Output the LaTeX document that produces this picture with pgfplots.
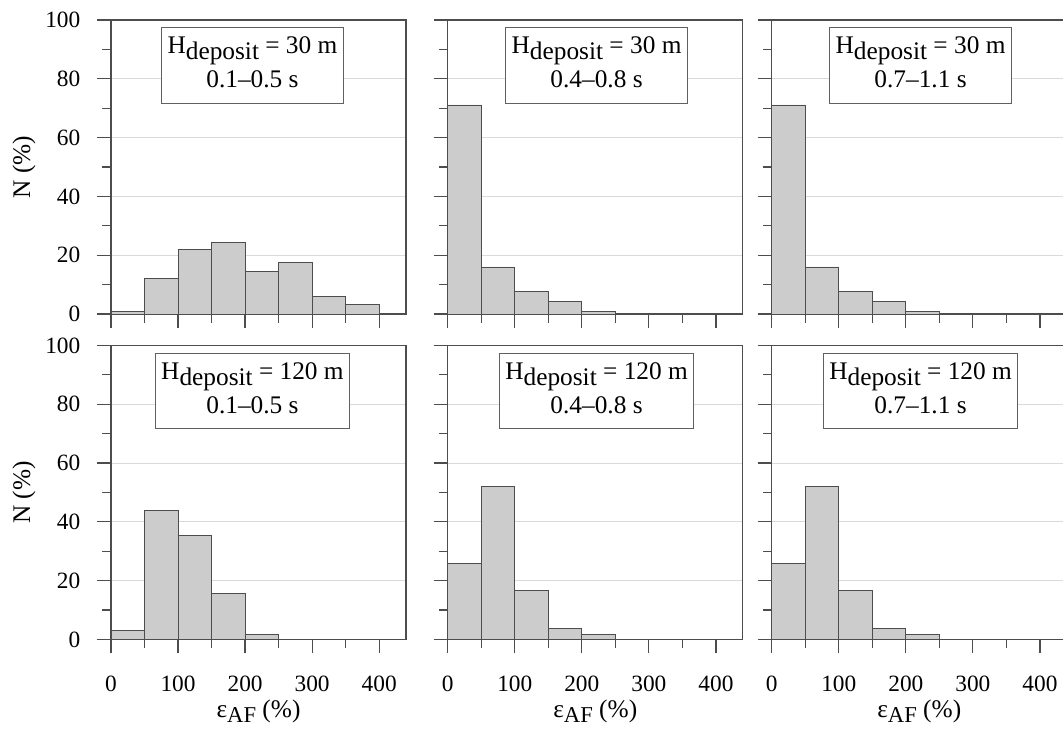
\documentclass[border=0pt]{standalone}
\usepackage{fontspec}
\setmainfont{Liberation Serif}
\usepackage{pgfplots}
\pgfplotsset{compat=1.18}
\definecolor{barfill}{HTML}{CCCCCC}
\definecolor{axisc}{HTML}{4D4D4D}
\definecolor{boxc}{HTML}{606060}
\definecolor{gridc}{HTML}{DADADA}

\newcommand{\hdep}[2]{H\raisebox{-0.23em}{deposit} = #1 m\\#2\rule[-0.25em]{0pt}{0pt}}

\pgfplotsset{
 panel/.style={
  scale only axis, width=221.25pt, height=220.5pt,
  xmin=0, xmax=440, ymin=0, ymax=100,
  xtick={0,100,...,400}, minor xtick={50,150,250,350},
  ytick={0,20,...,100}, minor ytick={10,30,...,90},
  tick align=outside, xtick pos=bottom, ytick pos=left,
  major tick length=10.5pt, minor tick length=6.4pt,
  ymajorgrids, major grid style={gridc, line width=0.8pt},
  axis line style={axisc, line width=0.9pt},
  major tick style={axisc, line width=0.9pt},
  minor tick style={axisc, line width=0.9pt},
  tick label style={font=\fontsize{17.5}{17.5}\selectfont},
  yticklabel style={xshift=-9pt},
  xticklabel style={yshift=-13.5pt},
  /pgf/number format/assume math mode=true,
  every axis y label/.style={at={(axis description cs:-0.295,0.5)}, rotate=90, anchor=center},
  every axis x label/.style={at={(axis description cs:0.5,-0.265)}, anchor=base},
  label style={font=\fontsize{19}{19}\selectfont},
  clip=false,
 },
 bars/.style={ybar interval, fill=barfill, draw=axisc, line width=0.7pt},
 nox/.style={xticklabels={}},
 noy/.style={yticklabels={}},
 ylab/.style={ylabel={N (\%)}},
 xlab/.style={xlabel={ε\raisebox{-0.2em}{\fontsize{17}{17}\selectfont AF} (\%)}},
}
\tikzset{infobox/.style={draw=boxc, line width=0.8pt, fill=white, anchor=north, align=center,
  font=\fontsize{19}{25.5}\selectfont, inner xsep=4.5pt, inner ysep=7pt}}

\begin{document}
\begin{tikzpicture}
\path[use as bounding box] (0,0) rectangle (797.25pt,-549.75pt);
% Row 1
\begin{axis}[panel, nox, ylab, at={(83.25pt,-15pt)}, anchor=north west]
\addplot[bars] coordinates {(0,0.8)(50,12.1)(100,22.1)(150,24.3)(200,14.5)(250,17.5)(300,5.9)(350,3.1)(400,0)};
\node[infobox] at (axis cs:211,97.6) {\hdep{30}{0.1–0.5 s}};
\end{axis}
\begin{axis}[panel, nox, noy, at={(335.8pt,-15pt)}, anchor=north west]
\addplot[bars] coordinates {(0,71.1)(50,16.0)(100,7.5)(150,4.4)(200,0.7)(250,0)};
\node[infobox] at (axis cs:222,97.6) {\hdep{30}{0.4–0.8 s}};
\end{axis}
\begin{axis}[panel, nox, noy, at={(578.8pt,-15pt)}, anchor=north west]
\addplot[bars] coordinates {(0,71.1)(50,16.0)(100,7.5)(150,4.4)(200,0.7)(250,0)};
\node[infobox] at (axis cs:222,97.6) {\hdep{30}{0.7–1.1 s}};
\end{axis}
% Row 2
\begin{axis}[panel, ylab, xlab, at={(83.25pt,-259.1pt)}, anchor=north west]
\addplot[bars] coordinates {(0,3.05)(50,43.8)(100,35.5)(150,15.8)(200,1.6)(250,0)};
\node[infobox] at (axis cs:211,97.6) {\hdep{120}{0.1–0.5 s}};
\end{axis}
\begin{axis}[panel, noy, xlab, at={(335.8pt,-259.1pt)}, anchor=north west]
\addplot[bars] coordinates {(0,25.8)(50,52.2)(100,16.6)(150,3.8)(200,1.6)(250,0)};
\node[infobox] at (axis cs:222,97.6) {\hdep{120}{0.4–0.8 s}};
\end{axis}
\begin{axis}[panel, noy, xlab, at={(578.8pt,-259.1pt)}, anchor=north west]
\addplot[bars] coordinates {(0,25.8)(50,52.2)(100,16.6)(150,3.8)(200,1.6)(250,0)};
\node[infobox] at (axis cs:222,97.6) {\hdep{120}{0.7–1.1 s}};
\end{axis}
\end{tikzpicture}
\end{document}
